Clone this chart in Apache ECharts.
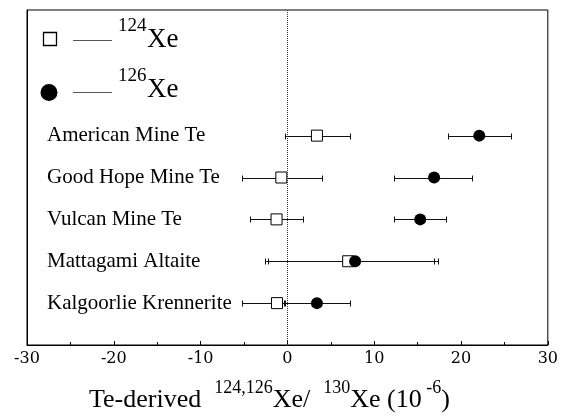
<!DOCTYPE html>
<html>
<head>
<meta charset="utf-8">
<script src="https://cdn.jsdelivr.net/npm/echarts@6/dist/echarts.min.js"></script>
<style>
  html, body { margin: 0; padding: 0; background: #fff; }
  #chart { width: 561px; height: 420px; }
</style>
</head>
<body>
<div id="chart"></div>
<script>
// Samples, bottom row first, and their row positions on the y scale
const samples = ['Kalgoorlie Krennerite', 'Mattagami Altaite', 'Vulcan Mine Te', 'Good Hope Mine Te', 'American Mine Te'];
const rowPos = [1, 2, 3, 4, 5];

// Te-derived 124Xe/130Xe (10^-6) with error bar limits
const xe124 = [-1.2, 7.0, -1.25, -0.7, 3.4];
const xe124Low = [-5.2, -2.6, -4.3, -5.2, -0.3];
const xe124High = [-0.3, 16.9, 1.75, 4.0, 7.2];

// Te-derived 126Xe/130Xe (10^-6) with error bar limits
const xe126 = [3.4, 7.8, 15.3, 16.9, 22.1];
const xe126Low = [-0.4, -2.2, 12.3, 12.3, 18.45];
const xe126High = [7.2, 17.3, 18.3, 21.3, 25.75];

// x axis range and tick step
const xMin = -30, xMax = 30, xStep = 10;

const SERIF = '"Liberation Serif", "Times New Roman", serif';
const TICK_FONT = '"DejaVu Serif", serif';

function pointsOf(values) {
  return values.map((v, i) => [v, rowPos[i]]);
}
function barsOf(lows, highs) {
  return lows.map((lo, i) => [lo, highs[i], rowPos[i]]);
}

// Horizontal error bar with end caps
function renderErrorBar(params, api) {
  const y = api.value(2);
  const a = api.coord([api.value(0), y]);
  const b = api.coord([api.value(1), y]);
  const yy = Math.round(a[1]) + 0.5;
  const x1 = Math.round(a[0]) + 0.5;
  const x2 = Math.round(b[0]) + 0.5;
  const cap = 3;
  const st = { stroke: '#111', lineWidth: 1, fill: null };
  return {
    type: 'group',
    children: [
      { type: 'line', shape: { x1: x1, y1: yy, x2: x2, y2: yy }, style: st },
      { type: 'line', shape: { x1: x1, y1: yy - cap, x2: x1, y2: yy + cap }, style: st },
      { type: 'line', shape: { x1: x2, y1: yy - cap, x2: x2, y2: yy + cap }, style: st }
    ]
  };
}

const chart = echarts.init(document.getElementById('chart'), null, { renderer: 'canvas' });

const option = {
  animation: false,
  backgroundColor: '#fff',
  grid: {
    left: 27, right: 13, top: 10, bottom: 75,
    show: true, borderColor: '#000', borderWidth: 1, backgroundColor: 'transparent'
  },
  xAxis: {
    type: 'value',
    min: xMin, max: xMax, interval: xStep,
    axisLine: { show: true, onZero: false, lineStyle: { color: '#000', width: 1 } },
    axisTick: { show: true, inside: true, length: 4, lineStyle: { color: '#000' } },
    minorTick: { show: true, splitNumber: 2, length: 3, lineStyle: { color: '#000' } },
    splitLine: { show: false },
    axisLabel: { color: '#000', fontFamily: TICK_FONT, fontSize: 16, margin: 6 },
    name: '{t|Te-derived  }{s|124,126}{t|Xe/  }{s|130}{t|Xe (10}{s| -6}{t|)}',
    nameLocation: 'middle',
    nameGap: 34,
    nameTextStyle: {
      padding: [0, 36, 0, 0],
      rich: {
        t: { fontFamily: SERIF, fontSize: 26, color: '#000', verticalAlign: 'bottom', lineHeight: 34 },
        s: { fontFamily: SERIF, fontSize: 18, color: '#000', verticalAlign: 'top', lineHeight: 34 }
      }
    }
  },
  yAxis: {
    type: 'value',
    min: 0, max: 8, interval: 1,
    axisLine: { show: true, onZero: false, lineStyle: { color: '#000', width: 1 } },
    axisTick: { show: false },
    splitLine: { show: false },
    axisLabel: {
      inside: true,
      margin: 20,
      color: '#000',
      fontFamily: SERIF,
      fontSize: 21,
      formatter: function (v) {
        const k = rowPos.indexOf(v);
        return k >= 0 ? samples[k] : '';
      }
    }
  },
  series: [
    {
      name: '124Xe error', type: 'custom', renderItem: renderErrorBar,
      encode: { x: [0, 1], y: 2 }, data: barsOf(xe124Low, xe124High), z: 2, silent: true
    },
    {
      name: '126Xe error', type: 'custom', renderItem: renderErrorBar,
      encode: { x: [0, 1], y: 2 }, data: barsOf(xe126Low, xe126High), z: 2, silent: true
    },
    {
      name: '124Xe', type: 'scatter', data: pointsOf(xe124), z: 3,
      symbol: 'rect', symbolSize: 11,
      itemStyle: { color: '#fff', borderColor: '#000', borderWidth: 1, opacity: 1 },
      markLine: {
        silent: true, symbol: ['none', 'none'], label: { show: false },
        lineStyle: { color: '#333', type: 'dotted', width: 1 },
        data: [{ xAxis: 0 }]
      }
    },
    {
      name: '126Xe', type: 'scatter', data: pointsOf(xe126), z: 4,
      symbol: 'circle', symbolSize: 12,
      itemStyle: { color: '#000', opacity: 1 }
    }
  ],
  graphic: [
    // key for 124Xe
    { type: 'rect', shape: { x: 43.5, y: 32.5, width: 13, height: 13 }, style: { fill: '#fff', stroke: '#000', lineWidth: 1.3 } },
    { type: 'line', shape: { x1: 73, y1: 40.5, x2: 112, y2: 40.5 }, style: { stroke: '#555', lineWidth: 1 } },
    { type: 'text', x: 118, y: 17, style: { text: '124', font: '19px ' + SERIF, fill: '#000' } },
    { type: 'text', x: 147, y: 26, style: { text: 'Xe', font: '27px ' + SERIF, fill: '#000' } },
    // key for 126Xe
    { type: 'circle', shape: { cx: 49, cy: 92.5, r: 8.5 }, style: { fill: '#000' } },
    { type: 'line', shape: { x1: 73, y1: 92.5, x2: 112, y2: 92.5 }, style: { stroke: '#555', lineWidth: 1 } },
    { type: 'text', x: 118, y: 67, style: { text: '126', font: '19px ' + SERIF, fill: '#000' } },
    { type: 'text', x: 147, y: 76, style: { text: 'Xe', font: '27px ' + SERIF, fill: '#000' } }
  ]
};

chart.setOption(option);
</script>
</body>
</html>
